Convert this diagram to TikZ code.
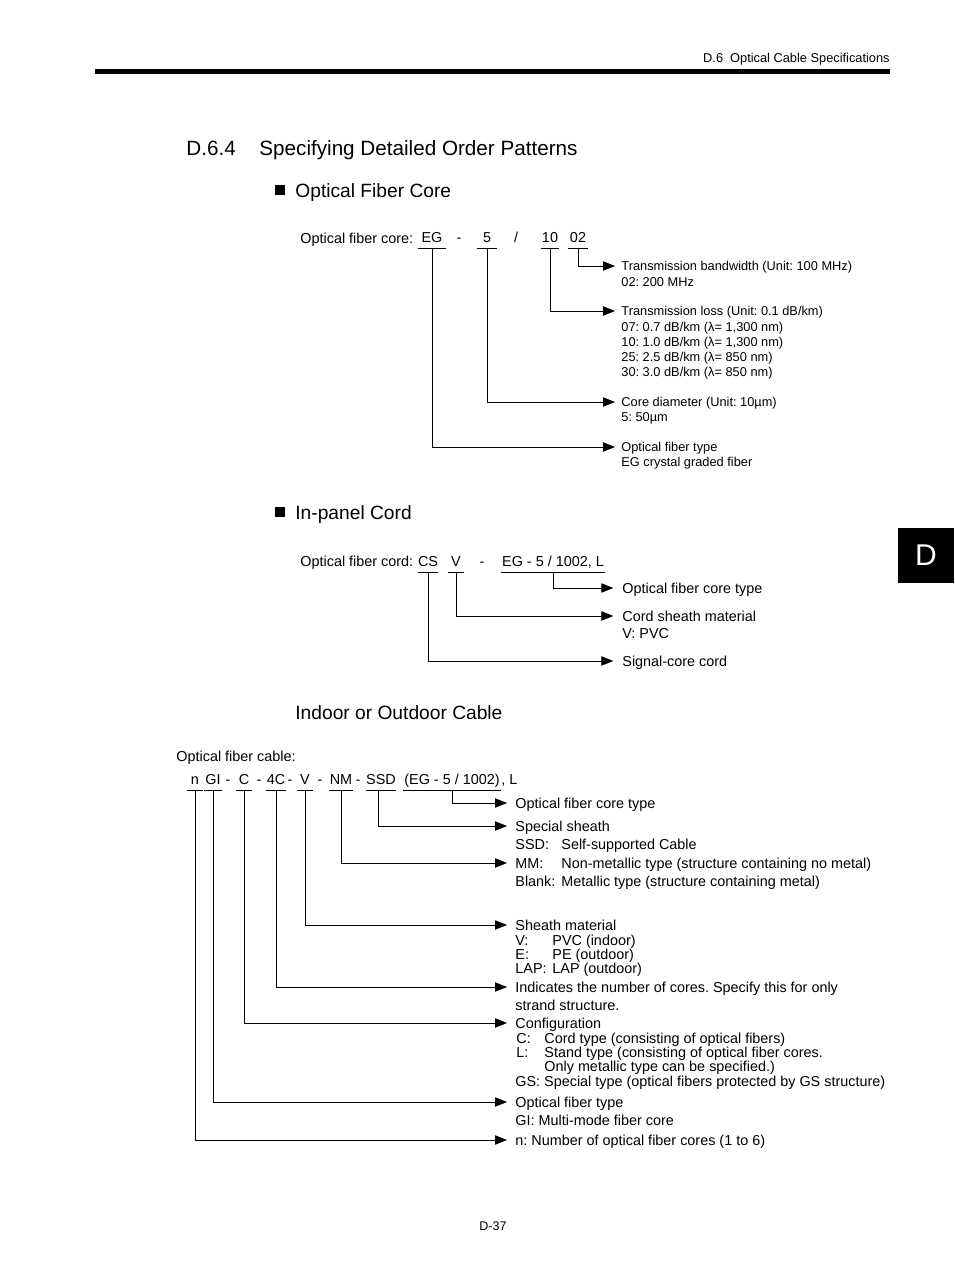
\documentclass[tikz,border=0pt]{standalone}
\usepackage{fontspec}
\setmainfont{Liberation Sans}
\usetikzlibrary{arrows.meta}
\frenchspacing
\begin{document}
\frenchspacing
\begin{tikzpicture}[x=0.75pt,y=-0.75pt,line width=0.6pt,
  fA/.style={font=\fontsize{10.8}{13}\selectfont},
  fS/.style={font=\fontsize{9.6}{12}\selectfont},
  labA/.style={fA,anchor=west,inner sep=0pt,text height=7.7pt,text depth=0pt},
  labS/.style={fS,anchor=west,inner sep=0pt,text height=6.9pt,text depth=0pt},
  tok/.style={fA,anchor=south,inner sep=0pt,text height=7.7pt,text depth=3.75pt},
  txt/.style={fA,anchor=base west,inner sep=0pt},
  arr/.style={-{Triangle[length=9pt,width=7pt]}},
  ar1/.style={arr,shorten >=4.5pt},
  ar2/.style={arr,shorten >=6.5pt},
  ar3/.style={arr,shorten >=6pt},
  ]
\useasboundingbox (0,0) rectangle (954,1274);
% header
\node[fS,anchor=base east,inner sep=0pt] (hdr) at (890,62.6) {D.6\ \ Optical Cable Specifications};
\fill (95,69) rectangle (890,74);
\fill (898,528) rectangle (954,583);
\node[text=white,font=\fontsize{22.5}{26}\selectfont,inner sep=0pt] (tab) at (926,555.5) {D};
\node[font=\fontsize{9.4}{12}\selectfont,anchor=base,inner sep=0pt] (pg) at (493,1230.5) {D-37};
% headings
\node[font=\fontsize{15.5}{18}\selectfont,anchor=base west,inner sep=0pt] (hnum) at (186,155.4) {D.6.4};
\node[font=\fontsize{15.5}{18}\selectfont,anchor=base west,inner sep=0pt] (htit) at (259,155.4) {Specifying Detailed Order Patterns};
\fill (275,185) rectangle (285,195);
\node[font=\fontsize{14.4}{17}\selectfont,anchor=base west,inner sep=0pt] (t1) at (295,197) {Optical Fiber Core};
\fill (275,507) rectangle (285,517);
\node[font=\fontsize{14.4}{17}\selectfont,anchor=base west,inner sep=0pt] (t2) at (295,519) {In-panel Cord};
\node[font=\fontsize{14.4}{17}\selectfont,anchor=base west,inner sep=0pt] (t3) at (295,719) {Indoor or Outdoor Cable};

% ---------- Section 1
\node[txt] (s1lab) at (300,243) {Optical fiber core:};
\node[tok,minimum width=21pt] (eg) at (432,248) {EG};
\node[tok] (d1) at (459,248) {-};
\node[tok,minimum width=14.25pt] (five) at (487,248) {5};
\node[tok] (sl1) at (516,248) {/};
\node[tok,minimum width=13.5pt] (ten) at (550,248) {10};
\node[tok,minimum width=14.25pt] (oz) at (578,248) {02};
\foreach \t in {eg,five,ten,oz} \draw (\t.south west) -- (\t.south east);

\node[labS] (b1) at (621,266) {Transmission bandwidth (Unit: 100 MHz)};
\node[labS] (b1a) at (621,282) {02: 200 MHz};
\node[labS] (b2) at (621,311) {Transmission loss (Unit: 0.1 dB/km)};
\node[labS] (b2a) at (621,327) {07: 0.7 dB/km (λ= 1,300 nm)};
\node[labS] (b2b) at (621,342) {10: 1.0 dB/km (λ= 1,300 nm)};
\node[labS] (b2c) at (621,357) {25: 2.5 dB/km (λ= 850 nm)};
\node[labS] (b2d) at (621,372) {30: 3.0 dB/km (λ= 850 nm)};
\node[labS] (b3) at (621,402) {Core diameter (Unit: 10µm)};
\node[labS] (b3a) at (621,417) {5: 50µm};
\node[labS] (b4) at (621,447) {Optical fiber type};
\node[labS] (b4a) at (621,462) {EG crystal graded fiber};

\draw[ar1] (oz.south) |- (b1.west);
\draw[ar1] (ten.south) |- (b2.west);
\draw[ar1] (five.south) |- (b3.west);
\draw[ar1] (eg.south) |- (b4.west);

% ---------- Section 2
\node[txt] (s2lab) at (300,566) {Optical fiber cord:};
\node[tok,minimum width=15pt] (cs) at (428,572) {CS};
\node[tok,minimum width=11.25pt] (vv) at (456,572) {V};
\node[tok] (d2) at (482,572) {-};
\node[tok,minimum width=78pt] (egc) at (553,572) {EG - 5 / 1002, L};
\foreach \t in {cs,vv,egc} \draw (\t.south west) -- (\t.south east);

\node[labA] (c1) at (622,588) {Optical fiber core type};
\node[labA] (c2) at (622,616) {Cord sheath material};
\node[labA] (c2a) at (622,633) {V: PVC};
\node[labA] (c3) at (622,661) {Signal-core cord};

\draw[ar2] (egc.south) |- (c1.west);
\draw[ar2] (vv.south) |- (c2.west);
\draw[ar2] (cs.south) |- (c3.west);

% ---------- Section 3
\node[txt] (s3lab) at (176,761) {Optical fiber cable:};
\node[tok,minimum width=12pt] (tn) at (195,790) {n};
\node[tok,minimum width=12.75pt] (tgi) at (213,790) {GI};
\node[tok] (e1) at (228,790) {-};
\node[tok,minimum width=11.25pt] (tc) at (244,790) {C};
\node[tok] (e2) at (259,790) {-};
\node[tok,minimum width=13.5pt] (t4c) at (276,790) {4C};
\node[tok] (e3) at (290,790) {-};
\node[tok,minimum width=12pt] (tv) at (305,790) {V};
\node[tok] (e4) at (320,790) {-};
\node[tok,minimum width=17.25pt] (tnm) at (341,790) {NM};
\node[tok] (e5) at (358,790) {-};
\node[tok] (tssd) at (381,790) {SSD};
\node[tok,minimum width=72.75pt] (tpar) at (452,790) {(EG - 5 / 1002)};
\node[tok,anchor=south west] (tl) at (tpar.south east) {, L};
\foreach \t in {tn,tgi,tc,t4c,tv,tnm,tssd,tpar} \draw (\t.south west) -- (\t.south east);

\node[labA] (k1) at (515,803) {Optical fiber core type};
\node[labA] (k2) at (515,826) {Special sheath};
\node[labA] (k2a) at (515,844) {SSD:};
\node[labA] (k2b) at (561,844) {Self-supported Cable};
\node[labA] (k3) at (515,863) {MM:};
\node[labA] (k3a) at (561,863) {Non-metallic type (structure containing no metal)};
\node[labA] (k3b) at (515,881) {Blank:};
\node[labA] (k3c) at (561,881) {Metallic type (structure containing metal)};
\node[labA] (k4) at (515,925) {Sheath material};
\node[labA] (k4a) at (515,940) {V:};
\node[labA] (k4b) at (552,940) {PVC (indoor)};
\node[labA] (k4c) at (515,954) {E:};
\node[labA] (k4d) at (552,954) {PE (outdoor)};
\node[labA] (k4e) at (515,968) {LAP:};
\node[labA] (k4f) at (552,968) {LAP (outdoor)};
\node[labA] (k5) at (515,987) {Indicates the number of cores. Specify this for only};
\node[labA] (k5a) at (515,1005) {strand structure.};
\node[labA] (k6) at (515,1023) {Configuration};
\node[labA] (k6a) at (516,1038) {C:};
\node[labA] (k6b) at (544,1038) {Cord type (consisting of optical fibers)};
\node[labA] (k6c) at (516,1052) {L:};
\node[labA] (k6d) at (544,1052) {Stand type (consisting of optical fiber cores.};
\node[labA] (k6e) at (544,1066) {Only metallic type can be specified.)};
\node[labA] (k6f) at (515,1081) {GS: Special type (optical fibers protected by GS structure)};
\node[labA] (k7) at (515,1102) {Optical fiber type};
\node[labA] (k7a) at (515,1120) {GI: Multi-mode fiber core};
\node[labA] (k8) at (515,1140) {n: Number of optical fiber cores (1 to 6)};

\draw[ar3] (tpar.south) |- (k1.west);
\draw[ar3] ([xshift=-2.25pt]tssd.south) |- (k2.west);
\draw[ar3] (tnm.south) |- (k3.west);
\draw[ar3] (tv.south) |- (k4.west);
\draw[ar3] (t4c.south) |- (k5.west);
\draw[ar3] (tc.south) |- (k6.west);
\draw[ar3] (tgi.south) |- (k7.west);
\draw[ar3] (tn.south) |- (k8.west);
\end{tikzpicture}
\end{document}
